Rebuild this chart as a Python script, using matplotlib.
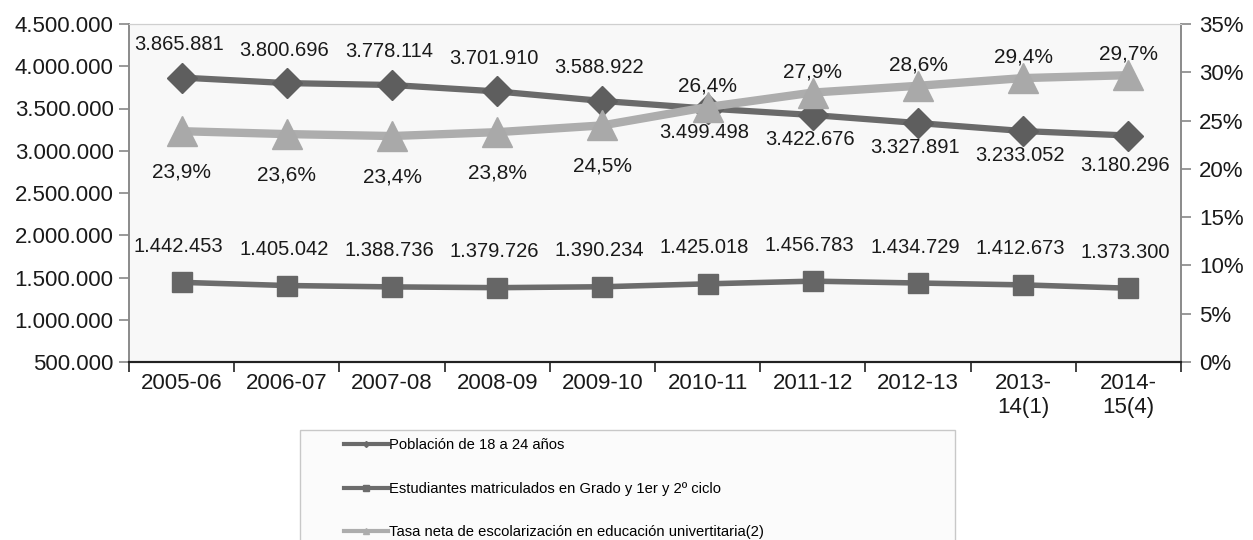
import numpy as np
import matplotlib
matplotlib.use("Agg")
import matplotlib.pyplot as plt
from matplotlib.patches import Rectangle
from matplotlib.lines import Line2D

plt.rcParams["font.family"] = ["Liberation Sans", "DejaVu Sans"]

cursos = ["2005-06", "2006-07", "2007-08", "2008-09", "2009-10", "2010-11",
          "2011-12", "2012-13", "2013-\n14(1)", "2014-\n15(4)"]
poblacion = [3865881, 3800696, 3778114, 3701910, 3588922, 3499498,
             3422676, 3327891, 3233052, 3180296]
estudiantes = [1442453, 1405042, 1388736, 1379726, 1390234, 1425018,
               1456783, 1434729, 1412673, 1373300]
tasa = [23.9, 23.6, 23.4, 23.8, 24.5, 26.4, 27.9, 28.6, 29.4, 29.7]

nombres = ["Población de 18 a 24 años",
           "Estudiantes matriculados en Grado y 1er y 2º ciclo",
           "Tasa neta de escolarización en educación univertitaria(2)"]

C_POB = "#6a6a6a"
C_EST = "#6c6c6c"
C_TASA = "#adadad"


def miles(v):
    return f"{v:,.0f}".replace(",", ".")


fig = plt.figure(figsize=(12.53, 5.40), dpi=100, facecolor="white")
ax = fig.add_axes([129 / 1253, 1 - 362 / 540, (1181 - 129) / 1253, (362 - 24) / 540])
ax.set_facecolor("#f8f8f8")
ax2 = ax.twinx()

x = np.arange(len(cursos))

ax.plot(x, poblacion, color=C_POB, lw=4.5, marker="D", ms=15,
        mfc="#5e5e5e", mec="#5e5e5e", zorder=3)
ax.plot(x, estudiantes, color=C_EST, lw=4, marker="s", ms=15,
        mfc="#666666", mec="#666666", zorder=3)
ax2.plot(x, tasa, color=C_TASA, lw=6, marker="^", ms=21,
         mfc="#a9a9a9", mec="#a9a9a9", zorder=3)

# data labels
for i, v in enumerate(poblacion):
    if i < 5:
        off = 33
    elif i == len(poblacion) - 1:
        off = -30
    else:
        off = -24
    ax.annotate(miles(v), (x[i], v), xytext=(-3, off), textcoords="offset pixels",
                ha="center", va="center", fontsize=14.5, color="#1a1a1a")
for i, v in enumerate(estudiantes):
    ax.annotate(miles(v), (x[i], v), xytext=(-3, 36), textcoords="offset pixels",
                ha="center", va="center", fontsize=14.5, color="#1a1a1a")
for i, v in enumerate(tasa):
    off = -41 if i < 5 else 21
    ax2.annotate(f"{v:.1f}%".replace(".", ","), (x[i], v), xytext=(0, off),
                 textcoords="offset pixels", ha="center", va="center",
                 fontsize=15, color="#1a1a1a")

# axes
ax.set_xlim(-0.5, len(cursos) - 0.5)
ax.set_ylim(500000, 4500000)
ax.set_yticks(np.arange(500000, 4500001, 500000))
ax.set_yticklabels([miles(v) for v in np.arange(500000, 4500001, 500000)])
ax2.set_ylim(0, 35)
ax2.set_yticks(np.arange(0, 36, 5))
ax2.set_yticklabels([f"{v}%" for v in range(0, 36, 5)])

ax.set_xticks(np.arange(-0.5, len(cursos), 1.0))
ax.set_xticklabels([])
ax.set_xticks(x, minor=True)
ax.set_xticklabels(cursos, minor=True)
ax.tick_params(axis="x", which="major", length=7, width=1.2, color="#222222")
ax.tick_params(axis="x", which="minor", length=0, labelsize=16, pad=8, colors="#1a1a1a")
ax.tick_params(axis="y", length=7, width=1.2, color="#888888", labelsize=16,
               labelcolor="#1a1a1a", pad=4)
ax2.tick_params(axis="y", length=7, width=1.2, color="#888888", labelsize=16,
                labelcolor="#1a1a1a", pad=6)

for a in (ax, ax2):
    a.spines["top"].set_color("#cfcfcf")
    a.spines["left"].set_color("#8a8a8a")
    a.spines["right"].set_color("#8a8a8a")
    a.spines["bottom"].set_color("#222222")
    a.spines["left"].set_linewidth(1.2)
    a.spines["right"].set_linewidth(1.2)
    a.spines["bottom"].set_linewidth(1.5)

# legend box
fig.patches.append(Rectangle((300 / 1253, -0.1), 655 / 1253, 0.1 + 1 - 430 / 540,
                             transform=fig.transFigure, facecolor="#fbfbfb",
                             edgecolor="#c8c8c8", lw=1, zorder=0))
handles = [
    Line2D([], [], color=C_POB, lw=3, marker="D", ms=3, mfc=C_POB),
    Line2D([], [], color=C_EST, lw=3, marker="s", ms=4, mfc=C_EST),
    Line2D([], [], color=C_TASA, lw=3, marker="^", ms=4, mfc=C_TASA),
]
fig.legend(handles, nombres, loc="upper left",
           bbox_to_anchor=(334 / 1253, 1 - 428 / 540), frameon=False,
           fontsize=10.6, handlelength=3.0, handletextpad=0.05,
           labelspacing=2.0, borderpad=0.2)

fig.savefig("out.png", dpi=100, facecolor="white")
